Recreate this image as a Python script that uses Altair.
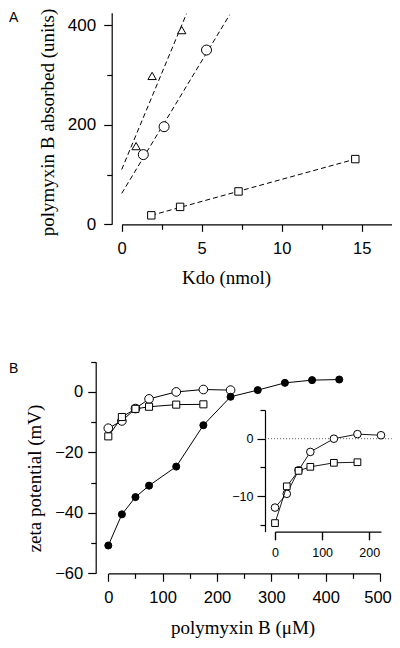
import altair as alt
import pandas as pd

W, H = 384, 632

# ---------------- Panel A data (Kdo nmol vs polymyxin B absorbed) ----------------
a_tri_kdo = [0.9, 1.9, 3.75]
a_tri_pmb = [157, 298, 390]
a_cir_kdo = [1.35, 2.65, 5.3]
a_cir_pmb = [140, 196, 350]
a_sq_kdo = [1.85, 3.65, 7.3, 14.6]
a_sq_pmb = [18, 35, 66, 131]
# regression lines (end points)
a_tri_fit_kdo = [0.0, 4.05]
a_tri_fit_pmb = [110, 423]
a_cir_fit_kdo = [0.0, 6.75]
a_cir_fit_pmb = [62, 421]
a_sq_fit_kdo = [1.85, 14.6]
a_sq_fit_pmb = [18, 131]

a_x_major = [0, 5, 10, 15]
a_x_minor = [2.5, 7.5, 12.5]
a_y_major = [0, 200, 400]
a_y_minor = [100, 300]

# ---------------- Panel B data (polymyxin B uM vs zeta potential mV) ----------------
b_filled_conc = [0, 25, 50, 75, 125, 175, 225, 275, 325, 375, 425]
b_filled_zeta = [-50.8, -40.5, -34.8, -31.0, -24.7, -11.0, -1.6, 0.6, 3.0, 3.9, 4.1]
b_open_conc = [0, 25, 50, 75, 125, 175, 225]
b_open_zeta = [-12.0, -9.6, -5.5, -2.3, 0.0, 0.8, 0.6]
b_sq_conc = [0, 25, 50, 75, 125, 175]
b_sq_zeta = [-14.7, -8.3, -5.6, -4.9, -4.2, -4.1]

b_x_major = [0, 100, 200, 300, 400]
b_x_last = [500]
b_x_minor = [50, 150, 250, 350, 450]
b_y_major = [-60, -40, -20, 0]
b_y_minor = [-50, -30, -10, 10]

inset_x_major = [0, 100, 200]
inset_y_major = [-10, 0]
inset_y_minor = [-15, -5, 5]
inset_zero_x = [-21, 248]
inset_zero_y = [0, 0]


def lin(domain, rng):
    return alt.Scale(domain=domain, range=rng, nice=False, zero=False)


xA = lin([0, 17.08], [113.7, 387.0])
yA = lin([0, 425], [216.3, 4.7])
xB = lin([0, 500], [100.3, 372.0])
yB = lin([-60, 10], [565.3, 353.7])
xI = lin([0, 225], [267.0, 373.0])
yI = lin([-16.2, 5], [523.7, 402.0])


def axis(orient, offset, values, tick, pad=5, labels=True, domain=True, size=16.5, **kw):
    a = dict(orient=orient, offset=offset, values=values, tickSize=tick, labels=labels,
             domain=domain, grid=False, domainColor='black', tickColor='black',
             labelColor='black', domainWidth=1.2, tickWidth=1.2,
             labelFont='Liberation Sans', labelFontSize=size, labelPadding=pad,
             labelFlush=False, labelOverlap=False, titleFont='Liberation Serif',
             titleFontSize=19, titleFontWeight='normal', titleColor='black')
    a.update(kw)
    return alt.Axis(**a)


def df(xs, ys):
    return pd.DataFrame({'x': xs, 'y': ys})


def pts(xs, ys, xs_, ys_, shape, size, fill='white', sw=1.0):
    return alt.Chart(df(xs, ys)).mark_point(
        shape=shape, size=size, filled=True, fill=fill, stroke='black',
        strokeWidth=sw, opacity=1
    ).encode(x=alt.X('x:Q', scale=xs_, axis=None), y=alt.Y('y:Q', scale=ys_, axis=None))


def line(xs, ys, xs_, ys_, dash=None, sw=1.0, color='black'):
    m = dict(color=color, strokeWidth=sw)
    if dash:
        m['strokeDash'] = dash
    return alt.Chart(df(xs, ys)).mark_line(**m).encode(
        x=alt.X('x:Q', scale=xs_, axis=None), y=alt.Y('y:Q', scale=ys_, axis=None))


def axis_layer(xs, ys, xsc, ysc, xaxis, yaxis):
    return alt.Chart(df(xs, ys)).mark_point(opacity=0).encode(
        x=alt.X('x:Q', scale=xsc, axis=xaxis), y=alt.Y('y:Q', scale=ysc, axis=yaxis))


# ---------------- Panel A ----------------
a_axes_major = axis_layer(
    a_sq_kdo, a_sq_pmb, xA, yA,
    axis('bottom', 216.3 - H, a_x_major, 7, pad=9, title='Kdo (nmol)',
         titleX=218, titleY=58.7, titleBaseline='alphabetic', titleAlign='center', titleAngle=0),
    axis('left', -103.7, a_y_major, 8, pad=8, size=17, title='polymyxin B absorbed (units)',
         titleX=-58.6, titleY=114, titleBaseline='alphabetic', titleAlign='center', titleAngle=270),
)
a_axes_minor = axis_layer(
    a_sq_kdo, a_sq_pmb, xA, yA,
    axis('bottom', 216.3 - H, a_x_minor, 5, labels=False, domain=False, title=None),
    axis('left', -103.7, a_y_minor, 5, labels=False, domain=False, title=None),
)
a_layers = [
    a_axes_major, a_axes_minor,
    line(a_tri_fit_kdo, a_tri_fit_pmb, xA, yA, dash=[5, 3]),
    line(a_cir_fit_kdo, a_cir_fit_pmb, xA, yA, dash=[5, 3]),
    line(a_sq_fit_kdo, a_sq_fit_pmb, xA, yA, dash=[5, 3]),
    pts(a_tri_kdo, a_tri_pmb, xA, yA, 'triangle-up', 70),
    pts(a_cir_kdo, a_cir_pmb, xA, yA, 'circle', 100),
    pts(a_sq_kdo, a_sq_pmb, xA, yA, 'square', 55),
]

# ---------------- Panel B ----------------
b_axes_major = axis_layer(
    b_filled_conc, b_filled_zeta, xB, yB,
    axis('bottom', 565.3 - H, b_x_major, 8, pad=8, title='polymyxin B (\u03bcM)',
         titleX=234.5, titleY=60, titleBaseline='alphabetic', titleAlign='center', titleAngle=0),
    axis('left', -87.7, b_y_major, 8, pad=5, title='zeta potential (mV)',
         titleX=-54.9, titleY=470, titleBaseline='alphabetic', titleAlign='center', titleAngle=270),
)
b_axes_minor = axis_layer(
    b_filled_conc, b_filled_zeta, xB, yB,
    axis('bottom', 565.3 - H, b_x_minor, 5, labels=False, domain=False, title=None),
    axis('left', -87.7, b_y_minor, 5, labels=False, domain=False, title=None),
)
b_axis_last = alt.Chart(df(b_filled_conc, b_filled_zeta)).mark_point(opacity=0).encode(
    x=alt.X('x:Q', scale=xB, axis=axis('bottom', 565.3 - H, b_x_last, 8, pad=8, domain=False,
                                        labelOffset=-2.5, title=None)))
b_layers = [
    b_axes_major, b_axes_minor, b_axis_last,
    line(b_open_conc, b_open_zeta, xB, yB),
    pts(b_open_conc, b_open_zeta, xB, yB, 'circle', 75),
    line(b_sq_conc, b_sq_zeta, xB, yB),
    pts(b_sq_conc, b_sq_zeta, xB, yB, 'square', 50),
    line(b_filled_conc, b_filled_zeta, xB, yB),
    pts(b_filled_conc, b_filled_zeta, xB, yB, 'circle', 50, fill='black'),
]

# ---------------- Inset ----------------
i_axes_major = axis_layer(
    b_open_conc, b_open_zeta, xI, yI,
    axis('bottom', 523.7 - H, inset_x_major, 8, pad=7, size=12.5, title=None),
    axis('left', -257, inset_y_major, 8, pad=4, size=12.5, title=None),
)
i_axes_minor = axis_layer(
    b_open_conc, b_open_zeta, xI, yI,
    axis('bottom', 523.7 - H, inset_x_major, 8, labels=False, domain=False, title=None),
    axis('left', -257, inset_y_minor, 5, labels=False, domain=False, title=None),
)
i_layers = [
    i_axes_major, i_axes_minor,
    line(inset_zero_x, inset_zero_y, xI, yI, dash=[1, 2], sw=1.0, color='#555555'),
    line(b_open_conc, b_open_zeta, xI, yI, sw=0.9),
    pts(b_open_conc, b_open_zeta, xI, yI, 'circle', 58),
    line(b_sq_conc, b_sq_zeta, xI, yI, sw=0.9),
    pts(b_sq_conc, b_sq_zeta, xI, yI, 'square', 45),
]

# ---------------- Panel letters ----------------
panel_labels = ['A', 'B']
lab_a = alt.Chart(pd.DataFrame({'t': [panel_labels[0]]})).mark_text(
    font='Liberation Sans', fontSize=14, align='left', baseline='alphabetic', color='black'
).encode(text='t:N', x=alt.value(1), y=alt.value(14))
lab_b = alt.Chart(pd.DataFrame({'t': [panel_labels[1]]})).mark_text(
    font='Liberation Sans', fontSize=14, align='left', baseline='alphabetic', color='black'
).encode(text='t:N', x=alt.value(1), y=alt.value(365))

chart = alt.layer(*a_layers, *b_layers, *i_layers, lab_a, lab_b).resolve_scale(
    x='independent', y='independent'
).resolve_axis(
    x='independent', y='independent'
).properties(
    width=W, height=H, padding=0, autosize=alt.AutoSizeParams(type='none')
).configure_view(stroke=None)

chart.save("out.html", embed_options={"renderer": "svg", "actions": False})
